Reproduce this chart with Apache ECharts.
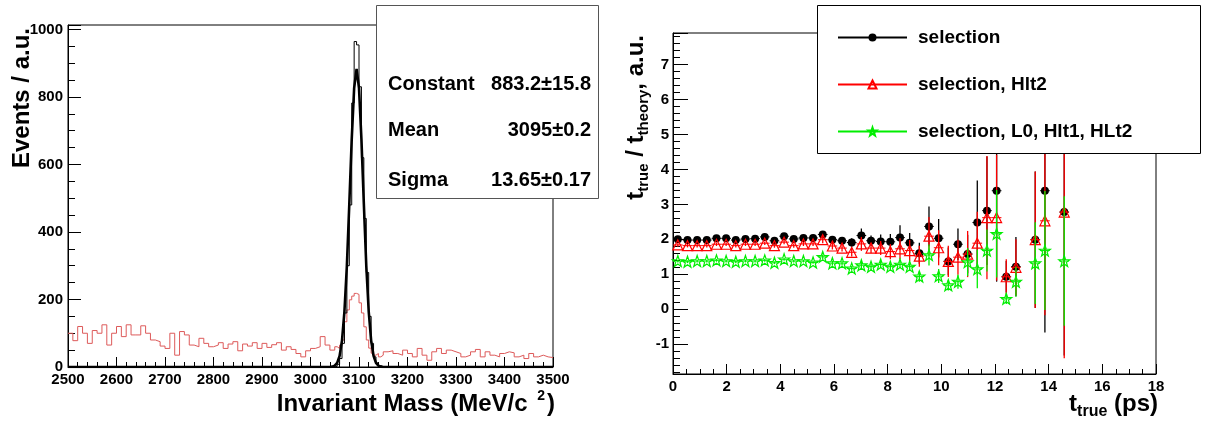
<!DOCTYPE html>
<html><head><meta charset="utf-8">
<script src="https://cdn.jsdelivr.net/npm/echarts@6/dist/echarts.min.js"></script>
<style>html,body{margin:0;padding:0;background:#fff}#c{width:1216px;height:422px}</style>
</head><body><div id="c"></div>
<script>
// ================= LEFT PANEL DATA (invariant mass) =================
const redLowStart = 2500, redLowWidth = 10;
const redLowCounts = [100,78,120,100,70,108,100,125,65,100,
  120,90,125,95,95,122,100,80,75,62,
  55,100,35,105,95,65,60,85,70,60,
  65,72,55,68,75,48,68,62,72,55,
  70,58,66,72,50,60,52,40,30,48,
  55,60,90,65,50];
const redPeakStart = 3050, redPeakWidth = 5;
const redPeakCounts = [60,55,65,80,134,169,199,210,218,215,190,160,119,80,56,41,35,40,30,35];
const redHighStart = 3150, redHighWidth = 10;
const redHighCounts = [45,48,40,35,50,40,30,55,35,20,45,55,40,50,45,40,30,35,45,52,
  30,45,35,30,40,45,42,30,35,25,40,30,35,30,28];
const blackStart = 3050, blackWidth = 5;
const blackCounts = [2,8,25,70,160,300,480,782,964,954,830,620,440,280,150,70,30,12,4,1];
const fitMass  = [2500,3040,3045,3050,3055,3060,3065,3070,3075,3080,3085,3090,3095,3100,3105,3110,3115,3120,3125,3130,3135,3140,3145,3150,3500];
const fitValue = [0,0,1,4,12,33,79,165,300,483,675,826,883,826,675,483,300,165,79,33,12,4,1,0,0];
const fitParNames = ['Constant','Mean','Sigma'];
const fitParValues = ['883.2\u00b115.8','3095\u00b10.2','13.65\u00b10.17'];

// ================= RIGHT PANEL DATA (t_true / t_theory) =================
const tTrue = [0.18,0.54,0.90,1.26,1.62,1.98,2.34,2.70,3.06,3.42,3.78,4.14,4.50,4.86,5.22,5.58,5.94,6.30,6.66,7.02,
  7.38,7.74,8.10,8.46,8.82,9.18,9.54,9.90,10.26,10.62,10.98,11.34,11.70,12.06,12.42,12.78,13.14,13.50,13.86,14.22,14.58];
const tHalfWidth = 0.18;
const selName = 'selection', hlt2Name = 'selection, Hlt2', trigName = 'selection, L0, Hlt1, HLt2';
const selVal = [2.00,1.98,1.98,1.98,2.03,2.03,1.98,2.01,2.02,2.07,1.96,2.09,2.01,2.04,2.04,2.14,1.99,1.96,1.91,2.11,
  1.96,1.94,1.93,2.05,1.90,1.60,2.37,2.03,1.37,1.86,1.58,2.48,2.82,3.39,0.93,1.22,null,1.99,3.39,null,2.78];
const selErr = [0.04,0.04,0.04,0.04,0.04,0.05,0.05,0.05,0.05,0.05,0.06,0.06,0.06,0.06,0.06,0.10,0.10,0.10,0.12,0.20,
  0.15,0.20,0.22,0.35,0.28,0.30,0.57,0.55,0.40,0.45,0.55,1.20,1.55,2.60,0.45,0.85,null,1.95,4.05,null,4.10];
const hlt2Val = [1.84,1.82,1.82,1.82,1.86,1.86,1.82,1.86,1.86,1.89,1.82,1.92,1.82,1.87,1.87,1.99,1.81,1.75,1.63,1.87,
  1.75,1.75,1.65,1.73,1.68,1.52,2.09,1.76,1.37,1.49,1.58,1.89,2.62,2.62,0.93,1.20,null,1.99,2.53,null,2.78];
const hlt2Err = [0.05,0.05,0.05,0.05,0.05,0.05,0.05,0.05,0.05,0.05,0.06,0.06,0.06,0.06,0.06,0.10,0.10,0.10,0.12,0.20,
  0.15,0.20,0.22,0.30,0.30,0.30,0.55,0.50,0.45,0.50,0.66,0.90,1.76,1.80,0.50,0.80,null,1.95,2.70,null,4.18];
const trigVal = [1.38,1.36,1.38,1.38,1.40,1.38,1.36,1.38,1.38,1.40,1.33,1.43,1.38,1.38,1.34,1.50,1.32,1.32,1.17,1.26,
  1.22,1.28,1.22,1.28,1.22,0.94,1.55,0.95,0.69,0.79,1.35,1.15,1.68,2.16,0.30,0.79,null,1.32,1.68,null,1.38];
const trigErr = [0.04,0.04,0.04,0.04,0.04,0.04,0.04,0.04,0.04,0.04,0.04,0.04,0.04,0.04,0.04,0.07,0.07,0.07,0.07,0.10,
  0.10,0.10,0.10,0.10,0.10,0.15,0.30,0.20,0.15,0.20,0.40,0.55,0.60,1.25,0.15,0.43,null,1.17,1.70,null,1.85];

// ================= helpers =================
const FONT = 'Liberation Sans, Arial, Helvetica, sans-serif';
function histSegment(start, width, counts, out) {
  counts.forEach((c, i) => out.push([start + i * width, c]));
  return out;
}
const redSteps = [];
histSegment(redLowStart, redLowWidth, redLowCounts, redSteps);
histSegment(redPeakStart, redPeakWidth, redPeakCounts, redSteps);
histSegment(redHighStart, redHighWidth, redHighCounts, redSteps);
redSteps.push([redHighStart + redHighCounts.length * redHighWidth, redHighCounts[redHighCounts.length - 1]]);

const blackSteps = [[2500, 0]];
histSegment(blackStart, blackWidth, blackCounts, blackSteps);
blackSteps.push([blackStart + blackCounts.length * blackWidth, 0]);
blackSteps.push([3500, 0]);

const fitLine = fitMass.map((m, i) => [m, fitValue[i]]);

function markerData(vals) {
  const d = [];
  tTrue.forEach((t, i) => { if (vals[i] != null) { d.push([t, vals[i]]); d.push([t, '-']); } });
  return d;
}
function errSeries(vals, errs, color, z) {
  const data = [];
  tTrue.forEach((t, i) => { if (vals[i] != null) data.push([t, vals[i], errs[i]]); });
  return {
    type: 'custom', xAxisIndex: 1, yAxisIndex: 1, z: z, data: data, silent: true,
    renderItem: function (params, api) {
      const x = api.value(0), y = api.value(1), e = api.value(2);
      const top = api.coord([x, y + e]), bot = api.coord([x, y - e]);
      const l = api.coord([x - tHalfWidth, y]), r = api.coord([x + tHalfWidth, y]);
      return { type: 'group', children: [
        { type: 'line', shape: { x1: top[0], y1: top[1], x2: bot[0], y2: bot[1] }, style: { stroke: color, lineWidth: 1.3 } },
        { type: 'line', shape: { x1: l[0], y1: l[1], x2: r[0], y2: r[1] }, style: { stroke: color, lineWidth: 1 } }
      ]};
    }
  };
}
const starPath = 'path://M0,-10 L2.35,-3.24 L9.51,-3.09 L3.8,1.24 L5.88,8.09 L0,4 L-5.88,8.09 L-3.8,1.24 L-9.51,-3.09 L-2.35,-3.24 Z';

const axisLbl = { color: '#000', fontFamily: FONT, fontWeight: 'bold', fontSize: 15 };

const option = {
  animation: false,
  backgroundColor: '#fff',
  grid: [
    { left: 68, right: 663, top: 25, bottom: 55, show: true, borderColor: '#000', borderWidth: 1, backgroundColor: 'transparent', containLabel: false, outerBoundsMode: 'none' },
    { left: 673, right: 60, top: 33, bottom: 48, show: true, borderColor: '#000', borderWidth: 1, backgroundColor: 'transparent', containLabel: false, outerBoundsMode: 'none' }
  ],
  xAxis: [
    { type: 'value', gridIndex: 0, min: 2500, max: 3500, interval: 100,
      axisLine: { show: true, onZero: false, lineStyle: { color: '#000', width: 1 } },
      axisTick: { inside: true, length: 10, lineStyle: { color: '#000' } },
      minorTick: { show: true, splitNumber: 5, length: 5, lineStyle: { color: '#000' } },
      splitLine: { show: false },
      axisLabel: Object.assign({ margin: 5, formatter: v => String(v) }, axisLbl),
      name: '{a|Invariant Mass (MeV/c }{s|2}{a|)}', nameLocation: 'end', nameGap: 2, nameMoveOverlap: false,
      nameTextStyle: { align: 'right', verticalAlign: 'top', padding: [22, 0, 0, 0],
        rich: { a: { fontFamily: FONT, fontWeight: 'bold', fontSize: 24, lineHeight: 30, color: '#000' },
                s: { fontFamily: FONT, fontWeight: 'bold', fontSize: 14, lineHeight: 14, verticalAlign: 'top', color: '#000', padding: [0, 2, 0, 3] } } }
    },
    { type: 'value', gridIndex: 1, min: 0, max: 18, interval: 2,
      axisLine: { show: true, onZero: false, lineStyle: { color: '#000', width: 1 } },
      axisTick: { inside: true, length: 10, lineStyle: { color: '#000' } },
      minorTick: { show: true, splitNumber: 4, length: 5, lineStyle: { color: '#000' } },
      splitLine: { show: false },
      axisLabel: Object.assign({ margin: 5, formatter: v => String(v) }, axisLbl),
      name: '{a|t}{s|true}{a| (ps)}', nameLocation: 'end', nameGap: 2, nameMoveOverlap: false,
      nameTextStyle: { align: 'right', verticalAlign: 'top', padding: [14, 0, 0, 0],
        rich: { a: { fontFamily: FONT, fontWeight: 'bold', fontSize: 24, lineHeight: 32, color: '#000' },
                s: { fontFamily: FONT, fontWeight: 'bold', fontSize: 16, lineHeight: 16, verticalAlign: 'bottom', color: '#000' } } }
    }
  ],
  yAxis: [
    { type: 'value', gridIndex: 0, min: 0, max: 1013, interval: 200,
      axisLine: { show: true, onZero: false, lineStyle: { color: '#000', width: 1 } },
      axisTick: { inside: true, length: 13, lineStyle: { color: '#000' } },
      minorTick: { show: true, splitNumber: 4, length: 7, lineStyle: { color: '#000' } },
      splitLine: { show: false },
      axisLabel: Object.assign({ margin: 5, formatter: v => (v % 200 === 0 ? String(v) : '') }, axisLbl),
      name: '{a|Events / a.u.}', nameLocation: 'end', nameGap: -3, nameRotate: 90, nameMoveOverlap: false,
      nameTextStyle: { align: 'right', verticalAlign: 'bottom', padding: [0, 0, 32, 0],
        rich: { a: { fontFamily: FONT, fontWeight: 'bold', fontSize: 24, lineHeight: 28, color: '#000' } } }
    },
    { type: 'value', gridIndex: 1, min: -1.85, max: 7.9, splitNumber: 10,
      axisLine: { show: true, onZero: false, lineStyle: { color: '#000', width: 1 } },
      axisTick: { inside: true, length: 15, lineStyle: { color: '#000' } },
      minorTick: { show: true, splitNumber: 5, length: 7, lineStyle: { color: '#000' } },
      splitLine: { show: false },
      axisLabel: Object.assign({ margin: 4, formatter: v => (Math.abs(v - Math.round(v)) < 1e-6 ? String(Math.round(v)) : '') }, axisLbl),
      name: '{a|t}{s|true}{a| / t}{s|theory}{a|, a.u.}', nameLocation: 'end', nameGap: -2, nameRotate: 90, nameMoveOverlap: false,
      nameTextStyle: { align: 'right', verticalAlign: 'bottom', padding: [0, 0, 22, 0],
        rich: { a: { fontFamily: FONT, fontWeight: 'bold', fontSize: 24, lineHeight: 30, color: '#000' },
                s: { fontFamily: FONT, fontWeight: 'bold', fontSize: 15, lineHeight: 15, verticalAlign: 'bottom', color: '#000' } } }
    }
  ],
  legend: {
    z: 20, orient: 'vertical', left: 832, top: 23, itemGap: 28, itemWidth: 69, itemHeight: 10,
    data: [selName, hlt2Name, trigName],
    textStyle: { fontFamily: FONT, fontWeight: 'bold', fontSize: 19, color: '#000', padding: [0, 0, 0, 6] }
  },
  graphic: [
    { type: 'rect', z: 15, shape: { x: 376.5, y: 5.5, width: 222, height: 193 }, style: { fill: '#fff', stroke: '#555', lineWidth: 1 } },
    { type: 'rect', z: 15, shape: { x: 817.5, y: 5.5, width: 383, height: 148 }, style: { fill: '#fff', stroke: '#000', lineWidth: 1 } },
    { type: 'text', z: 16, left: 388, top: 74, style: { text: fitParNames[0], font: 'bold 20px ' + FONT, fill: '#000' } },
    { type: 'text', z: 16, left: 388, top: 120, style: { text: fitParNames[1], font: 'bold 20px ' + FONT, fill: '#000' } },
    { type: 'text', z: 16, left: 388, top: 170, style: { text: fitParNames[2], font: 'bold 20px ' + FONT, fill: '#000' } },
    { type: 'text', z: 16, right: 1216 - 591, top: 74, style: { text: fitParValues[0], font: 'bold 20px ' + FONT, fill: '#000', align: 'right' } },
    { type: 'text', z: 16, right: 1216 - 591, top: 120, style: { text: fitParValues[1], font: 'bold 20px ' + FONT, fill: '#000', align: 'right' } },
    { type: 'text', z: 16, right: 1216 - 591, top: 170, style: { text: fitParValues[2], font: 'bold 20px ' + FONT, fill: '#000', align: 'right' } }
  ],
  series: [
    { type: 'line', xAxisIndex: 0, yAxisIndex: 0, data: redSteps, step: 'end', showSymbol: false, silent: true,
      lineStyle: { color: '#dd5a5a', width: 1 }, z: 2 },
    { type: 'line', xAxisIndex: 0, yAxisIndex: 0, data: blackSteps, step: 'end', showSymbol: false, silent: true,
      lineStyle: { color: '#000', width: 1 }, z: 3 },
    { type: 'line', xAxisIndex: 0, yAxisIndex: 0, data: fitLine, showSymbol: false, silent: true,
      lineStyle: { color: '#000', width: 2.6 }, z: 4 },

    errSeries(selVal, selErr, '#000', 2),
    { name: selName, type: 'line', xAxisIndex: 1, yAxisIndex: 1, data: markerData(selVal), z: 3,
      symbol: 'circle', symbolSize: 8, showSymbol: true, connectNulls: false,
      itemStyle: { color: '#000' }, lineStyle: { color: '#000', width: 1 } },
    errSeries(hlt2Val, hlt2Err, '#ff0000', 4),
    { name: hlt2Name, type: 'line', xAxisIndex: 1, yAxisIndex: 1, data: markerData(hlt2Val), z: 5,
      symbol: 'triangle', symbolSize: 10, showSymbol: true, connectNulls: false,
      itemStyle: { color: 'rgba(0,0,0,0)', borderColor: '#ff0000', borderWidth: 1.2 }, lineStyle: { color: '#ff0000', width: 1 } },
    errSeries(trigVal, trigErr, '#00ee00', 6),
    { name: trigName, type: 'line', xAxisIndex: 1, yAxisIndex: 1, data: markerData(trigVal), z: 7,
      symbol: starPath, symbolSize: 11, showSymbol: true, connectNulls: false,
      itemStyle: { color: 'rgba(0,0,0,0)', borderColor: '#00ee00', borderWidth: 1.2 }, lineStyle: { color: '#00ee00', width: 1 } }
  ]
};
const chart = echarts.init(document.getElementById('c'), null, { renderer: 'canvas' });
chart.setOption(option);
</script></body></html>
